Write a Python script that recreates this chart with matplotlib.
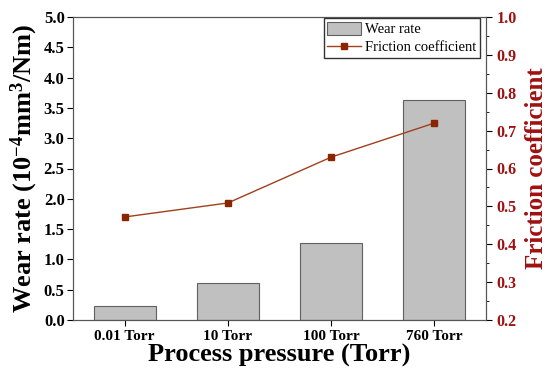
import matplotlib.pyplot as plt
from matplotlib.ticker import MultipleLocator

plt.rcParams["font.family"] = ["Liberation Serif", "DejaVu Serif"]
plt.rcParams["mathtext.fontset"] = "custom"
plt.rcParams["mathtext.rm"] = "Liberation Serif:bold"
plt.rcParams["mathtext.it"] = "Liberation Serif:bold"
plt.rcParams["mathtext.bf"] = "Liberation Serif:bold"

pressures = ["0.01 Torr", "10 Torr", "100 Torr", "760 Torr"]
wear_rate = [0.23, 0.61, 1.27, 3.63]
friction = [0.472, 0.509, 0.630, 0.720]

RED = "#a01010"
LINE = "#a0401a"

fig = plt.figure(figsize=(5.5, 3.77), dpi=100)
ax = fig.add_axes([73 / 550, 1 - 320 / 377, 413 / 550, 303 / 377])
x = range(len(pressures))
bars = ax.bar(x, wear_rate, width=0.6, color="#c0c0c0", edgecolor="#606060",
              lw=0.8, label="Wear rate")
ax.set_xlim(-0.5, 3.5)
ax.set_ylim(0, 5)
ax.yaxis.set_major_locator(MultipleLocator(0.5))
ax.set_xticks(list(x))
ax.set_xticklabels(pressures, fontsize=11, fontweight="bold")
for lbl in ax.get_yticklabels():
    lbl.set_fontweight("bold")
ax.tick_params(axis="y", labelsize=12, direction="out", length=4, pad=2)
ax.tick_params(axis="x", direction="out", length=4)
ax.set_xlabel("Process pressure (Torr)", fontsize=19, fontweight="bold", labelpad=0)
ax.set_ylabel("Wear rate (10$^{-4}$mm$^{3}$/Nm)", fontsize=19, fontweight="bold",
              labelpad=3)
for s in ax.spines.values():
    s.set_color("#555555")

ax2 = ax.twinx()
ln, = ax2.plot(list(x), friction, color=LINE, lw=1.0, marker="s", ms=5,
               mfc="#8b2500", mec="#8b2500", label="Friction coefficient")
ax2.set_ylim(0.2, 1.0)
ax2.yaxis.set_major_locator(MultipleLocator(0.1))
ax2.yaxis.set_minor_locator(MultipleLocator(0.05))
ax2.tick_params(axis="y", which="major", labelsize=11.5, labelcolor=RED, length=4)
ax2.tick_params(axis="y", which="minor", length=2)
for lbl in ax2.get_yticklabels():
    lbl.set_fontweight("bold")
ax2.set_ylabel("Friction coefficient", fontsize=18, fontweight="bold", color=RED,
               labelpad=6)
for s in ax2.spines.values():
    s.set_color("#555555")

leg = ax.legend([bars, ln], ["Wear rate", "Friction coefficient"], loc="upper right",
                bbox_to_anchor=(480 / 550, 1 - 18 / 377), bbox_transform=fig.transFigure,
                fontsize=10.5, frameon=True, fancybox=False, edgecolor="black",
                borderpad=0.25, handlelength=2.3, handleheight=1.0, handletextpad=0.3,
                labelspacing=0.25, borderaxespad=0)
leg.get_frame().set_linewidth(1.0)

fig.savefig("out.png", dpi=100)
